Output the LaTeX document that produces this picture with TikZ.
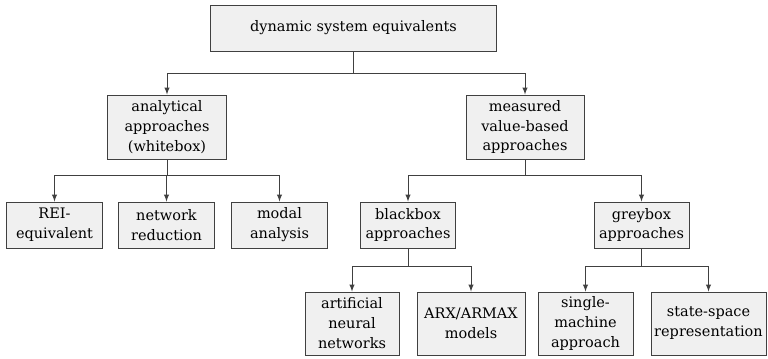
\documentclass[tikz,border=0pt]{standalone}
\usepackage{fontspec}
\setmainfont{DejaVu Serif}
\usetikzlibrary{positioning}
\usetikzlibrary{arrows}

\begin{document}
\begin{tikzpicture}
[x=0.025cm,y=-0.025cm,
 box/.style={shape=rectangle,draw=black!75,fill=black!6,line width=0.7pt,
   align=center,inner sep=1pt,font=\fontsize{10.3}{14.2}\selectfont},
 twoline/.style={box,minimum height=1.15cm},
 threeline/.style={box,minimum height=1.6cm},
 link/.style={draw=black!75,line width=0.7pt},
 arr/.style={link,-latex}]

\useasboundingbox (0,0) rectangle (768,358);

\draw (353.5,28) node (root) [twoline,minimum width=7.125cm] {dynamic system equivalents};

\draw (167,127) node (anal) [threeline,minimum width=2.95cm] {analytical\\approaches\\(whitebox)};
\draw (525,127) node (meas) [threeline,minimum width=2.95cm] {measured\\value-based\\approaches};

\draw (54.5,225) node (rei) [twoline,minimum width=2.375cm] {REI-\\equivalent};
\draw (166.5,225) node (netred) [twoline,minimum width=2.375cm] {network\\reduction};
\draw (279.5,225) node (modal) [twoline,minimum width=2.375cm] {modal\\analysis};
\draw (408,225) node (black) [twoline,minimum width=2.375cm] {blackbox\\approaches};
\draw (641.5,225) node (grey) [twoline,minimum width=2.375cm] {greybox\\approaches};

\draw (352,323.5) node (ann) [threeline,minimum height=1.575cm,minimum width=2.35cm] {artificial\\neural\\networks};
\draw (471,323.5) node (arx) [threeline,minimum height=1.575cm,minimum width=2.7cm] {ARX/ARMAX\\models};
\draw (585.5,323.5) node (single) [threeline,minimum height=1.575cm,minimum width=2.375cm] {single-\\machine\\approach};
\draw (708.5,323.5) node (ss) [threeline,minimum height=1.575cm,minimum width=2.875cm] {state-space\\representation};

\draw [arr] (root.south) -- ++(0,22) -| (anal);
\draw [arr] (root.south) -- ++(0,22) -| (meas);

\draw [arr] (anal.south) -- ++(0,16) -| (rei);
\draw [arr] (anal.south) -- ++(0,16) -| (netred);
\draw [arr] (anal.south) -- ++(0,16) -| (modal);

\draw [arr] (meas.south) -- ++(0,16) -| (black);
\draw [arr] (meas.south) -- ++(0,16) -| (grey);

\draw [arr] (black.south) -- ++(0,18) -| (ann);
\draw [arr] (black.south) -- ++(0,18) -| (arx);

\draw [arr] (grey.south) -- ++(0,18) -| (single);
\draw [arr] (grey.south) -- ++(0,18) -| (ss);
\end{tikzpicture}
\end{document}
